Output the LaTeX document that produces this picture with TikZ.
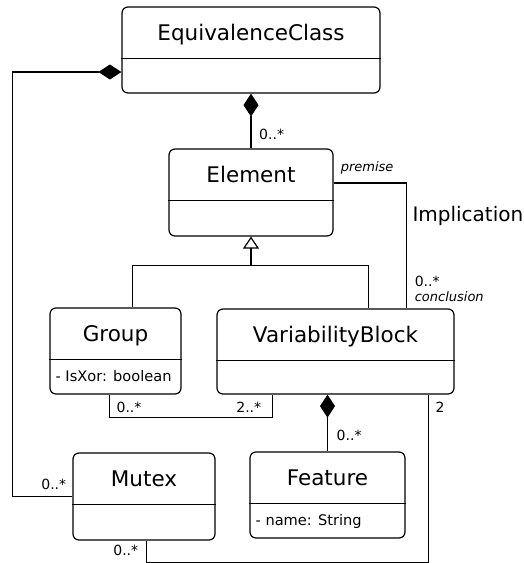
\documentclass[tikz,border=0pt]{standalone}
\usepackage{fontspec}
\setmainfont{DejaVu Sans}
\usetikzlibrary{positioning,calc,arrows.meta}

\tikzset{
    class/.style={draw, line width=1.2pt, rounded corners=6pt, inner sep=0pt},
    title/.style={font=\fontsize{21.5}{26}\selectfont, inner sep=0pt, anchor=base},
    attr/.style={font=\fontsize{14.6}{17}\selectfont, inner sep=0pt, anchor=base west},
    mult/.style={font=\fontsize{14}{17}\selectfont, inner sep=0pt},
    role/.style={font=\fontsize{13}{16}\selectfont\itshape, inner sep=0pt, anchor=base west},
    assoc/.style={line width=1.2pt},
    composite/.style={assoc, {Diamond[length=23pt,width=15pt]}-},
    inherit/.style={assoc, -{Triangle[open,length=12pt,width=16pt]}}
}

\begin{document}
\begin{tikzpicture}[x=1pt, y=-1pt]
    \useasboundingbox (0,0) rectangle (523,563);

    % classes
    \node[class, minimum width=258pt, minimum height=86pt] (ec) at (251,50) {};
    \node[title] (ecT) at ($(ec.north)+(0,34)$) {EquivalenceClass};
    \draw[assoc] ($(ec.north west)+(0,52)$) -- ($(ec.north east)+(0,52)$);

    \node[class, minimum width=164pt, minimum height=87pt] (elem) at (251,192.5) {};
    \node[title] (elemT) at ($(elem.north)+(0,34)$) {Element};
    \draw[assoc] ($(elem.north west)+(0,52)$) -- ($(elem.north east)+(0,52)$);

    \node[class, minimum width=131pt, minimum height=86pt] (grp) at (115.5,351) {};
    \node[title] (grpT) at ($(grp.north)+(0,34)$) {Group};
    \draw[assoc] ($(grp.north west)+(0,52)$) -- ($(grp.north east)+(0,52)$);
    \node[attr] (grpA) at ($(grp.north west)+(6,74)$) {- IsXor: boolean};

    \node[class, minimum width=237pt, minimum height=85pt] (vb) at (335.5,351.5) {};
    \node[title] (vbT) at ($(vb.north)+(0,34)$) {VariabilityBlock};
    \draw[assoc] ($(vb.north west)+(0,52)$) -- ($(vb.north east)+(0,52)$);

    \node[class, minimum width=155pt, minimum height=86pt] (feat) at (327.5,495) {};
    \node[title] (featT) at ($(feat.north)+(0,34)$) {Feature};
    \draw[assoc] ($(feat.north west)+(0,52)$) -- ($(feat.north east)+(0,52)$);
    \node[attr] (featA) at ($(feat.north west)+(6,74)$) {- name: String};

    \node[class, minimum width=142pt, minimum height=87pt] (mutex) at (144,496.5) {};
    \node[title] (mutexT) at ($(mutex.north)+(0,34)$) {Mutex};
    \draw[assoc] ($(mutex.north west)+(0,52)$) -- ($(mutex.north east)+(0,52)$);

    % compositions
    \draw[composite] (ec.south) -- (elem.north);
    \node[mult, anchor=base west] (mElem) at ($(elem.north)+(8,-9)$) {0..*};

    \draw[composite] ($(ec.west)+(0,22)$) -- ++(-109,0) |- (mutex.west);
    \node[mult, anchor=base east] (mMutexL) at ($(mutex.west)+(-6,-7)$) {0..*};

    \draw[composite] (vb.south -| feat.north) -- (feat.north);
    \node[mult, anchor=base west] (mFeat) at ($(feat.north)+(9,-10.5)$) {0..*};

    % generalization
    \coordinate (gen) at ($(elem.south)+(0,29)$);
    \draw[inherit] (gen) -- (elem.south);
    \draw[assoc] ($(grp.north west)+(83,0)$) |- (gen) -| ($(vb.north west)+(152,0)$);

    % implication
    \coordinate (impl) at ($(elem.east)+(73,-9.5)$);
    \draw[assoc] ($(elem.east)+(0,-9.5)$) -- (impl) -- (impl |- vb.north);
    \node[role] (premise) at ($(elem.east)+(7,-21.5)$) {premise};
    \node[font=\fontsize{20}{24}\selectfont, inner sep=0pt, anchor=base west] (implT) at ($(impl)+(5.7,38.5)$) {Implication};
    \node[mult, anchor=base west] (mConcl) at ($(impl |- vb.north)+(8,-22)$) {0..*};
    \node[role] (concl) at ($(impl |- vb.north)+(8,-7)$) {conclusion};

    % associations
    \draw[assoc] ($(grp.south west)+(60,0)$) -- ++(0,23) -| ($(vb.south west)+(56,0)$);
    \node[mult, anchor=base west] (mGrp) at ($(grp.south west)+(67,17.5)$) {0..*};
    \node[mult, anchor=base east] (mVbGrp) at ($(vb.south west)+(45,17.5)$) {2..*};

    \draw[assoc] ($(mutex.south west)+(74,0)$) -- ++(0,22) -| ($(vb.south west)+(212,0)$);
    \node[mult, anchor=base east] (mMutexB) at ($(mutex.south west)+(66,15)$) {0..*};
    \node[mult, anchor=base west] (mVbMutex) at ($(vb.south west)+(219,17.5)$) {2};
\end{tikzpicture}
\end{document}
